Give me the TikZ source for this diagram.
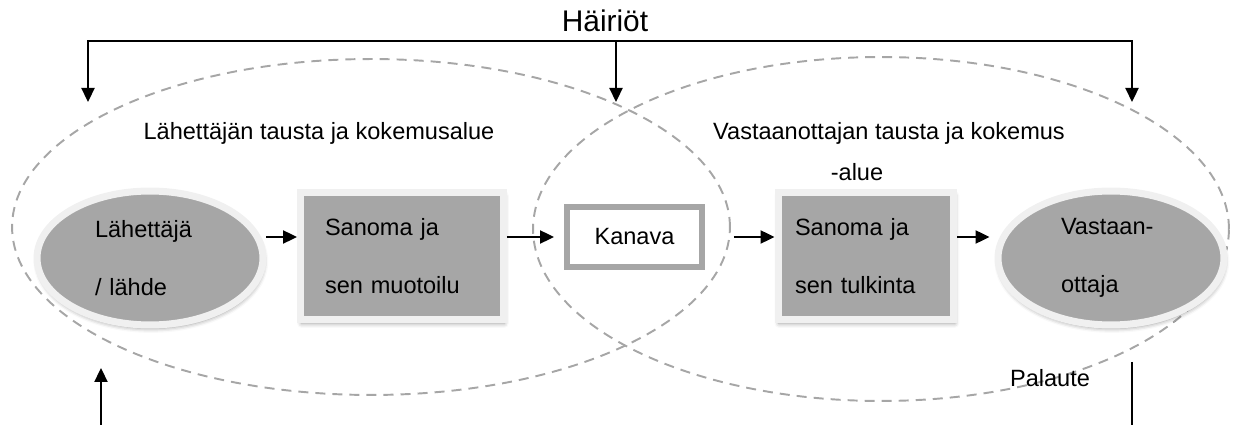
\documentclass[tikz,border=0pt]{standalone}
\usepackage{fontspec}
\setmainfont{Liberation Sans}
\usetikzlibrary{shapes.geometric,arrows.meta,shadows.blur}
\definecolor{fillgray}{HTML}{A6A6A6}
\definecolor{rimgray}{HTML}{F0F0F0}
\tikzset{
	txt/.style = {font=\fontsize{13.4}{33}\selectfont},
	soft/.style = {blur shadow={shadow xshift=0.5pt, shadow yshift=-2pt, shadow blur radius=2.5pt, shadow opacity=40}},
	party/.style = {txt, ellipse, fill=fillgray, draw=rimgray, line width=0.14cm, minimum width=4.52cm, minimum height=2.68cm, align=left, soft},
	msg/.style = {txt, rectangle, fill=fillgray, draw=rimgray, line width=0.14cm, minimum height=2.56cm, align=left, soft},
	chan/.style = {txt, rectangle, fill=white, draw=fillgray, line width=0.12cm, minimum width=2.7cm, minimum height=1.2cm},
	zone/.style = {draw=fillgray, line width=1.1pt, dash pattern=on 5.7pt off 4pt},
	wire/.style = {line width=1.3pt},
	arr/.style = {wire, -{Triangle[length=0.28cm, width=0.26cm]}}
}
\begin{document}
\begin{tikzpicture}[x=0.02cm, y=-0.02cm]
				\useasboundingbox (0,0) rectangle (1234,425);
				\draw[zone] (371,227) ellipse [x radius=7.18cm, y radius=3.36cm];
				\draw[zone] (881,229) ellipse [x radius=6.96cm, y radius=3.44cm];
				\node (L) [txt] at (319,133){Lähettäjän tausta ja kokemusalue};
				\node (V) [txt] at (889,133){Vastaanottajan tausta ja kokemus};
				\node (Va) [txt] at (857,172){-alue};
				%
				\node (H) [font=\fontsize{17}{20}\selectfont] at (605,21){Häiriöt};
				\coordinate (h1) at (88,41);
				\coordinate (h2) at (616,41);
				\coordinate (h3) at (1132,41);
				\coordinate (d1) at (88,102);
				\coordinate (d2) at (616,102);
				\coordinate (d3) at (1132,102);
				\draw[wire, line cap=rect] (h1) -- (h3);
				\foreach \i in {1,2,3} \draw[arr] (h\i) -- (d\i);
				%
				\node (A) [party, text width=2.2cm] at (150,258){Lähettäjä\\/ lähde};
				\node (B) [msg, minimum width=4.06cm, text width=3.08cm] at (402,256){Sanoma ja\\sen muotoilu};
				\node (C) [chan, xshift=-0.06cm] at (637.5,237){Kanava};
				\node (D) [msg, minimum width=3.52cm, text width=2.84cm] at (866,256){Sanoma ja\\sen tulkinta};
				\node (E) [party, text width=2.0cm] at (1111,258){Vastaan-\\ottaja};
				%
				\draw[arr] (A.east |- C.west) -- (B.west |- C.west);
				\draw[arr, shorten >=0.2cm] (B.east |- C.west) -- (C.west);
				\draw[arr, shorten <=0.58cm] (C.east) -- (D.west |- C.east);
				\draw[arr, shorten >=0.1cm] (D.east |- C.east) -- (E.west |- C.east);
				%
				\coordinate (f1) at (101,425);
				\coordinate (f2) at (101,368);
				\draw[arr] (f1) -- (f2);
				\node (P) [txt] at (1050,378){Palaute};
				\coordinate (p1) at (1132,362);
				\coordinate (p2) at (1132,425);
				\draw[wire] (p1) -- (p2);
			\end{tikzpicture}
\end{document}
